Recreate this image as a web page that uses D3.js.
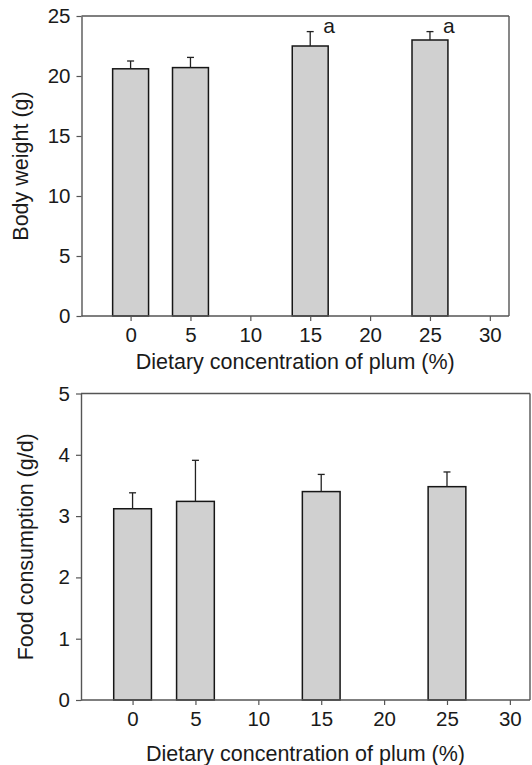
<!DOCTYPE html>
<html>
<head>
<meta charset="utf-8">
<script src="https://cdn.jsdelivr.net/npm/d3@7"></script>
<style>
  html, body { margin: 0; padding: 0; background: #fff; }
  svg { display: block; }
  text { font-family: "Liberation Sans", Arial, Helvetica, sans-serif; fill: #1a1a1a; }
</style>
</head>
<body>
<svg id="chart" width="532" height="765"></svg>
<script>
// Dietary plum concentration groups (%)
const concentrations = [0, 5, 15, 25];
const xTicks = [0, 5, 10, 15, 20, 25, 30];

// Panel A: body weight (g), mean and SD
const bodyWeight = [20.6, 20.7, 22.5, 23.0];
const bodyWeightErr = [0.65, 0.85, 1.2, 0.7];
const bodyWeightSig = ["", "", "a", "a"];
const bodyWeightTicks = [0, 5, 10, 15, 20, 25];

// Panel B: food consumption (g/d), mean and SD
const foodIntake = [3.12, 3.24, 3.40, 3.48];
const foodIntakeErr = [0.26, 0.67, 0.28, 0.24];
const foodIntakeSig = ["", "", "", ""];
const foodIntakeTicks = [0, 1, 2, 3, 4, 5];

const svg = d3.select("#chart");

function panel(opts) {
  const x = d3.scaleLinear().domain([-4.1, 31.6]).range([opts.left, opts.right]);
  const y = d3.scaleLinear().domain([0, opts.yMax]).range([opts.bottom, opts.top]);
  const g = svg.append("g");
  const frameColor = "#555";

  // bars
  const rows = concentrations.map((c, i) => ({ c, v: opts.values[i], e: opts.errors[i], s: opts.sig[i] }));
  g.selectAll("rect.bar").data(rows).join("rect")
    .attr("class", "bar")
    .attr("x", d => x(d.c - 1.5))
    .attr("width", d => x(d.c + 1.5) - x(d.c - 1.5))
    .attr("y", d => y(d.v))
    .attr("height", d => y(0) - y(d.v))
    .attr("fill", "#d0d0d0")
    .attr("stroke", "#161616")
    .attr("stroke-width", 1.5);

  // upper error bars
  g.selectAll("line.err").data(rows).join("line")
    .attr("class", "err")
    .attr("x1", d => x(d.c)).attr("x2", d => x(d.c))
    .attr("y1", d => y(d.v)).attr("y2", d => y(d.v + d.e))
    .attr("stroke", "#222").attr("stroke-width", 1.3);
  g.selectAll("line.cap").data(rows).join("line")
    .attr("class", "cap")
    .attr("x1", d => x(d.c) - 3.5).attr("x2", d => x(d.c) + 3.5)
    .attr("y1", d => y(d.v + d.e)).attr("y2", d => y(d.v + d.e))
    .attr("stroke", "#222").attr("stroke-width", 1.3);

  // significance letters
  g.selectAll("text.sig").data(rows.filter(d => d.s)).join("text")
    .attr("class", "sig")
    .attr("x", d => x(d.c) + 19)
    .attr("y", d => y(d.v + d.e) + 1)
    .attr("text-anchor", "middle")
    .attr("font-size", 21)
    .text(d => d.s);

  // frame (top and right)
  g.append("line").attr("x1", opts.left).attr("x2", opts.right)
    .attr("y1", opts.top).attr("y2", opts.top)
    .attr("stroke", frameColor).attr("stroke-width", 1.4);
  g.append("line").attr("x1", opts.right).attr("x2", opts.right)
    .attr("y1", opts.top).attr("y2", opts.bottom)
    .attr("stroke", frameColor).attr("stroke-width", 1.4);

  // axes
  const xAxis = g.append("g").attr("transform", `translate(0,${opts.bottom})`)
    .call(d3.axisBottom(x).tickValues(xTicks).tickFormat(d3.format("d"))
      .tickSize(5).tickPadding(6).tickSizeOuter(0));
  const yAxis = g.append("g").attr("transform", `translate(${opts.left},0)`)
    .call(d3.axisLeft(y).tickValues(opts.yTicks).tickFormat(d3.format("d"))
      .tickSize(5).tickPadding(6).tickSizeOuter(0));
  [xAxis, yAxis].forEach(a => {
    a.select(".domain").attr("stroke", frameColor).attr("stroke-width", 1.4);
    a.selectAll(".tick line").attr("stroke", frameColor).attr("stroke-width", 1.2);
    a.selectAll(".tick text").attr("font-size", 20.5).attr("fill", "#1a1a1a")
      .attr("font-family", "Liberation Sans, Arial, sans-serif");
  });
  // extend x baseline across the full plot width
  xAxis.select(".domain").attr("d", `M${opts.left},0H${opts.right}`);

  // axis titles
  g.append("text")
    .attr("x", (opts.left + opts.right) / 2 + opts.xTitleShift)
    .attr("y", opts.xTitleY)
    .attr("text-anchor", "middle")
    .attr("font-size", 21.5)
    .text("Dietary concentration of plum (%)");
  g.append("text")
    .attr("transform", `translate(${opts.yTitleX},${(opts.top + opts.bottom) / 2}) rotate(-90)`)
    .attr("text-anchor", "middle")
    .attr("font-size", 21.5)
    .text(opts.yTitle);
}

panel({
  left: 81.5, right: 509, top: 16, bottom: 316,
  yMax: 25, yTicks: bodyWeightTicks,
  values: bodyWeight, errors: bodyWeightErr, sig: bodyWeightSig,
  xTitleY: 369, xTitleShift: 0, yTitleX: 28, yTitle: "Body weight (g)"
});

panel({
  left: 81, right: 530, top: 393.5, bottom: 700,
  yMax: 5, yTicks: foodIntakeTicks,
  values: foodIntake, errors: foodIntakeErr, sig: foodIntakeSig,
  xTitleY: 761, xTitleShift: 0, yTitleX: 33, yTitle: "Food consumption (g/d)"
});
</script>
</body>
</html>
